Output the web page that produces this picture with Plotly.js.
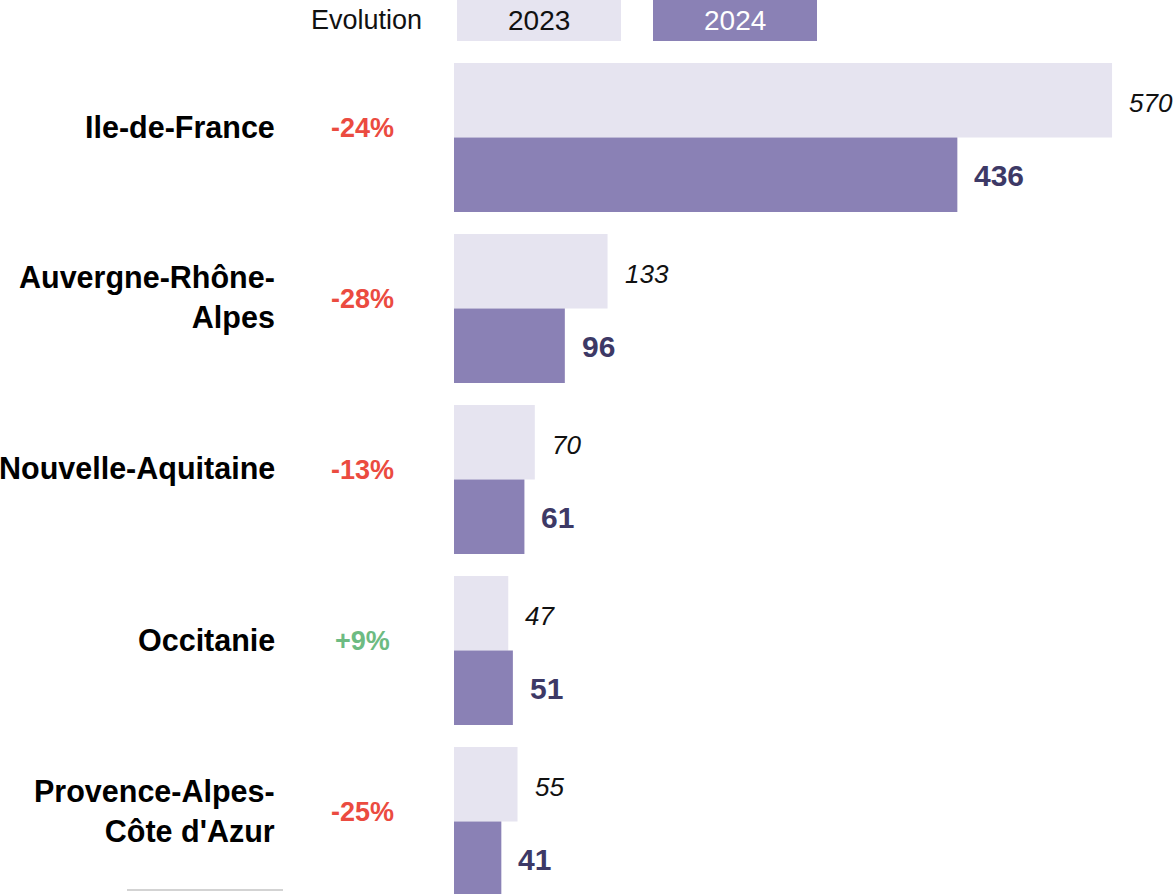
<!DOCTYPE html>
<html>
<head>
<meta charset="utf-8">
<script src="https://cdn.plot.ly/plotly-3.0.1.min.js"></script>
<style>html,body{margin:0;padding:0;background:#fff;}#chart{width:1176px;height:894px;}</style>
</head>
<body>
<div id="chart"></div>
<script>
const regions = ["Ile-de-France", "Auvergne-Rhône-Alpes", "Nouvelle-Aquitaine", "Occitanie", "Provence-Alpes-Côte d'Azur"];
const regionLabels = ["Ile-de-France", "Auvergne-Rhône-<br>Alpes", "Nouvelle-Aquitaine", "Occitanie", "Provence-Alpes-<br>Côte d'Azur"];
const values2023 = [570, 133, 70, 47, 55];
const values2024 = [436, 96, 61, 51, 41];
const evolution = ["-24%", "-28%", "-13%", "+9%", "-25%"];
const seriesNames = ["2023", "2024"];

const FONT = "Liberation Sans, Arial, sans-serif";
const C23 = "#E6E4F0", C24 = "#8A81B5", DARK = "#3D3966";
const RED = "#EB4B40", GREEN = "#6DBB82";

const plotW = 722, plotH = 842, mL = 454, mT = 52;
const px2x = p => (p - mL) / plotW;
const py2y = p => (mT + plotH - p) / plotH;

const traces = [
  {type: "bar", orientation: "h", name: seriesNames[0], y: regions, x: values2023,
   marker: {color: C23}, hoverinfo: "x"},
  {type: "bar", orientation: "h", name: seriesNames[1], y: regions, x: values2024,
   marker: {color: C24}, hoverinfo: "x"}
];

const ann = [];
regions.forEach((r, i) => {
  ann.push({x: px2x(277), xref: "paper", y: r, yref: "y", yshift: 11, xanchor: "right", align: "right",
    text: regionLabels[i], showarrow: false, font: {family: FONT, size: 30.5, color: "#000", weight: "bold"}});
  ann.push({x: px2x(362), xref: "paper", y: r, yref: "y", yshift: 10, xanchor: "center",
    text: evolution[i], showarrow: false,
    font: {family: FONT, size: 27, color: evolution[i].startsWith("+") ? GREEN : RED, weight: "bold"}});
  ann.push({x: values2023[i], xref: "x", y: r, yref: "y", yshift: 35, xshift: 15, xanchor: "left",
    text: "<i>" + values2023[i] + "</i>", showarrow: false, font: {family: FONT, size: 26, color: "#111"}});
  ann.push({x: values2024[i], xref: "x", y: r, yref: "y", yshift: -38, xshift: 15, xanchor: "left",
    text: "<b>" + values2024[i] + "</b>", showarrow: false, font: {family: FONT, size: 30, color: DARK}});
});
// legend header
ann.push({x: px2x(366), xref: "paper", y: py2y(20), yref: "paper", xanchor: "center", yanchor: "middle",
  text: "Evolution", showarrow: false, font: {family: FONT, size: 27, color: "#111"}});
ann.push({x: px2x(539), xref: "paper", y: py2y(21), yref: "paper", xanchor: "center", yanchor: "middle",
  text: seriesNames[0], showarrow: false, font: {family: FONT, size: 28, color: "#111"}});
ann.push({x: px2x(735), xref: "paper", y: py2y(21), yref: "paper", xanchor: "center", yanchor: "middle",
  text: seriesNames[1], showarrow: false, font: {family: FONT, size: 28, color: "#fff"}});

const shapes = [
  {type: "rect", xref: "paper", yref: "paper", x0: px2x(457), x1: px2x(621), y0: py2y(41), y1: py2y(0),
   fillcolor: C23, line: {width: 0}},
  {type: "rect", xref: "paper", yref: "paper", x0: px2x(653), x1: px2x(817), y0: py2y(41), y1: py2y(0),
   fillcolor: C24, line: {width: 0}},
  {type: "line", xref: "paper", yref: "paper", x0: px2x(127), x1: px2x(283), y0: py2y(890), y1: py2y(890),
   line: {color: "#D3D3D3", width: 2}}
];

const layout = {
  width: 1176, height: 894,
  margin: {l: mL, r: 0, t: mT, b: 0, pad: 0},
  paper_bgcolor: "#fff", plot_bgcolor: "#fff",
  showlegend: false,
  barmode: "group", bargap: 0.129, bargroupgap: 0,
  xaxis: {range: [0, 625.4], visible: false, fixedrange: true},
  yaxis: {type: "category", categoryorder: "array", categoryarray: regions,
          range: [4.424, -0.5], visible: false, fixedrange: true},
  annotations: ann, shapes: shapes
};

Plotly.newPlot("chart", traces, layout, {displayModeBar: false, staticPlot: true});
</script>
</body>
</html>
